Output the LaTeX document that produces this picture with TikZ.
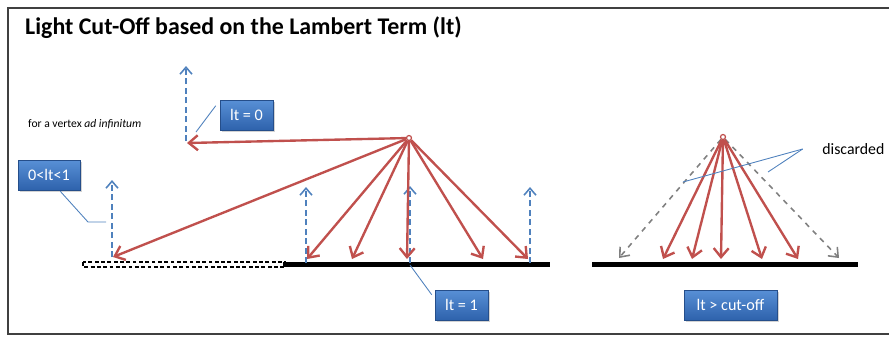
\documentclass[tikz,border=0pt]{standalone}
\usepackage{fontspec}
\setmainfont{Carlito}
\usetikzlibrary{arrows.meta,positioning,shadows,calc}
\definecolor{rayred}{RGB}{192,80,77}
\definecolor{normblue}{RGB}{79,129,189}
\definecolor{tagtop}{RGB}{88,144,214}
\definecolor{tagbot}{RGB}{46,98,172}

\begin{document}
\begin{tikzpicture}[x=0.02cm, y=-0.02cm,
    ray/.style={-{Straight Barb[length=1.8mm, width=3mm]}, line width=1.35pt, draw=rayred},
    cutray/.style={-{Straight Barb[length=1.6mm, width=2.6mm]}, line width=0.9pt, dashed, draw=gray},
    normal/.style={-{Straight Barb[length=1.4mm, width=2.4mm]}, line width=0.9pt, dash pattern=on 3.2pt off 2.2pt, draw=normblue},
    callout/.style={draw=normblue, line width=0.5pt},
    src/.style={circle, draw=rayred, fill=white, line width=0.7pt, inner sep=0pt, minimum size=0.1cm},
    tag/.style={rectangle, draw=tagbot!80!black, line width=0.3pt, top color=tagtop, bottom color=tagbot, text=white,
                minimum height=0.6cm, font=\fontsize{9.2}{11}\selectfont, inner xsep=2pt,
                drop shadow={shadow xshift=1.2pt, shadow yshift=-1.2pt, opacity=0.35}},
  ]
  \useasboundingbox (0,0) rectangle (889,336);
  % frame, open on the right
  \draw[line width=0.8pt, black!75] (889,8) -- (8,8) -- (8,334) -- (889,334);

  \node[anchor=west, font=\bfseries\fontsize{13.6}{15}\selectfont] (TT) at (19,28) {Light Cut-Off based on the Lambert Term (lt)};
  \node[anchor=west, font=\fontsize{6.6}{8}\selectfont] (V) at (22,124) {for a vertex \textit{ad infinitum}};

  % left scene: surface
  \draw[dash pattern=on 2.2pt off 1.4pt, line width=0.6pt, fill=white] (83,262) rectangle (285,267);
  \fill[black] (283,262) rectangle (550,267);

  % normals
  \foreach \nm/\x/\yb/\yt in {N1/112/257/180, N2/186/141/66, N3/306/263/187, N4/410/263/186, N5/530/263/187} {
    \coordinate (\nm b) at (\x,\yb);
    \coordinate (\nm t) at (\x,\yt);
    \draw[normal] (\nm b) -- (\nm t);
  }

  % light source and rays
  \node[src] (L1) at (409,138) {};
  \coordinate (R0) at (187,143);
  \draw[ray] (L1) -- (R0);
  \foreach \nm/\x/\y in {R1/113/257, R2/307/259, R3/352/259, R4/407/259, R5/483/259, R6/528/259} {
    \coordinate (\nm) at (\x,\y);
    \draw[ray] (L1) -- (\nm);
  }

  % right scene
  \fill[black] (592,262) rectangle (858,267);
  \node[src] (L2) at (723,137) {};
  \coordinate (G1) at (619,258);
  \coordinate (G2) at (839,258);
  \draw[cutray] (L2) -- (G1);
  \draw[cutray] (L2) -- (G2);
  \foreach \nm/\x in {S1/663, S2/692, S3/721, S4/762, S5/798} {
    \coordinate (\nm) at (\x,259);
    \draw[ray] (L2) -- (\nm);
  }

  % tags
  \node[tag, minimum width=1.06cm] (T0) at (246.5,115) {lt = 0};
  \node[tag, minimum width=1.24cm] (T1) at (49,175) {0<lt<1};
  \node[tag, minimum width=1.06cm] (T2) at (461.5,305) {lt = 1};
  \node[tag, minimum width=1.86cm] (T3) at (730.5,305) {lt > cut-off};
  \node[anchor=west, inner sep=0pt, font=\fontsize{9}{10}\selectfont] (D) at (822,149) {discarded};

  % callouts
  \coordinate (C0) at (196,132);
  \draw[callout] ([shift={(-4,6)}]T0.north west) -- (C0);
  \coordinate (C1) at (106,222);
  \draw[callout] ([shift={(-20,1)}]T1.south east) -- (88,222) -- (C1);
  \coordinate (C2) at (410,265);
  \draw[callout] ([shift={(-3,5)}]T2.north west) -- (C2);
  \coordinate (C3) at (683,182);
  \coordinate (C4) at (768,172);
  \draw[callout] ([xshift=-11]D.west) -- (C3);
  \draw[callout] ([xshift=-11]D.west) -- (C4);
\end{tikzpicture}
\end{document}
